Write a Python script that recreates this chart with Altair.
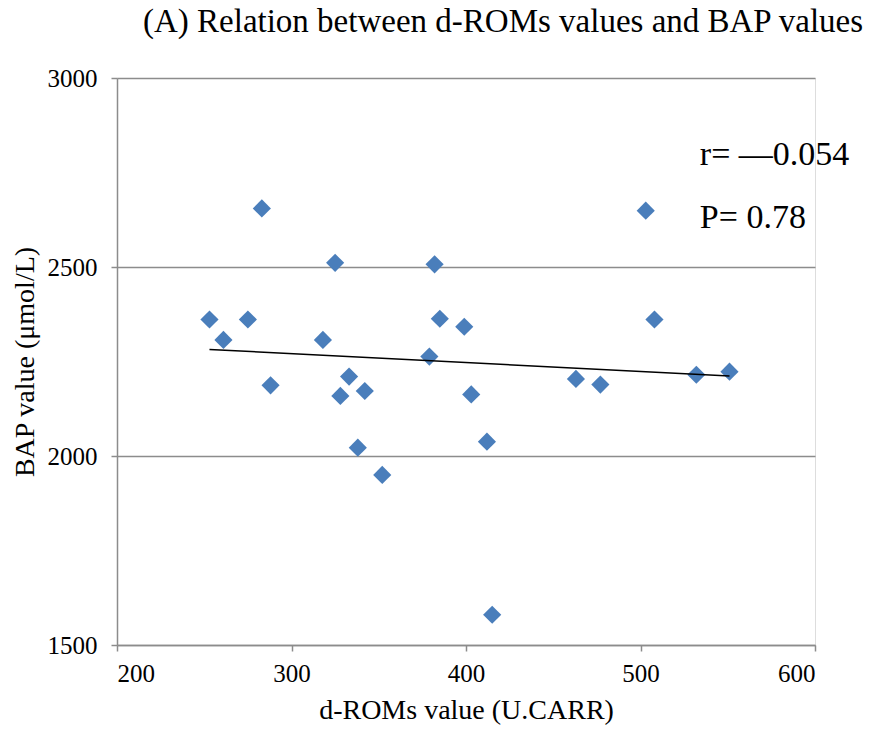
import altair as alt
import pandas as pd

d_roms = [253, 261, 275, 283, 288, 318, 325, 328, 333, 338, 342, 352, 379, 382,
          385, 399, 403, 412, 415, 463, 477, 503, 508, 532, 551]
bap = [2361, 2307, 2361, 2655, 2187, 2307, 2511, 2159, 2210, 2022, 2172, 1950, 2263,
       2507, 2363, 2342, 2163, 2038, 1580, 2204, 2189, 2649, 2361, 2215, 2223]

ann_text = ["r=\u00a0\u20140.054", "P= 0.78"]
ann_x = [534, 534]
ann_y = [2797, 2630]

df = pd.DataFrame({"x": d_roms, "y": bap})
ann = pd.DataFrame({"t": ann_text, "x": ann_x, "y": ann_y})

FONT = "Liberation Serif"
GRID = "#8c8c8c"

xs = alt.Scale(domain=[200, 600], nice=False, zero=False)
ys = alt.Scale(domain=[1500, 3000], nice=False, zero=False)

xaxis = alt.Axis(values=[200, 300, 400, 500, 600], format="d", grid=False, domainColor=GRID,
                 domainWidth=1.5, tickColor=GRID, tickWidth=1.5, tickSize=6,
                 labelFont=FONT, labelFontSize=25, labelColor="black", labelPadding=10,
                 title="d-ROMs value (U.CARR)", titleFont=FONT, titleFontSize=28,
                 titleFontWeight="normal", titleColor="black", titlePadding=10)
yaxis = alt.Axis(values=[1500, 2000, 2500, 3000], format="d", grid=True, gridColor=GRID,
                 gridWidth=1.5, domainColor=GRID, domainWidth=1.5, tickColor=GRID,
                 tickWidth=1.5, tickSize=6, labelFont=FONT, labelFontSize=25,
                 labelColor="black", labelPadding=14,
                 title="BAP value (\u03bcmol/L)", titleFont=FONT, titleFontSize=28,
                 titleFontWeight="normal", titleColor="black", titlePadding=8)

base = alt.Chart(df)
pts = base.mark_point(shape="diamond", filled=True, size=330, color="#4A7EBB",
                      opacity=1).encode(
    x=alt.X("x:Q", scale=xs, axis=xaxis),
    y=alt.Y("y:Q", scale=ys, axis=yaxis),
)
reg = base.transform_regression("x", "y").mark_line(color="black", strokeWidth=1.5).encode(
    x=alt.X("x:Q", scale=xs), y=alt.Y("y:Q", scale=ys)
)
txt = alt.Chart(ann).mark_text(align="left", baseline="middle", font=FONT,
                               fontSize=34, color="black").encode(
    x=alt.X("x:Q", scale=xs), y=alt.Y("y:Q", scale=ys), text="t:N"
)

chart = alt.layer(pts, reg, txt).properties(
    width=698, height=567,
    title=alt.TitleParams("(A) Relation between d-ROMs values and BAP values",
                          font=FONT, fontSize=33, fontWeight="normal", color="black",
                          anchor="start", frame="group", dx=26, offset=27),
    autosize=alt.AutoSizeParams(type="none"),
    padding={"left": 117, "top": 78, "right": 59, "bottom": 87},
).configure_view(stroke=None).configure(background="white")

chart.save("out.html", embed_options={"renderer": "svg", "actions": False})
